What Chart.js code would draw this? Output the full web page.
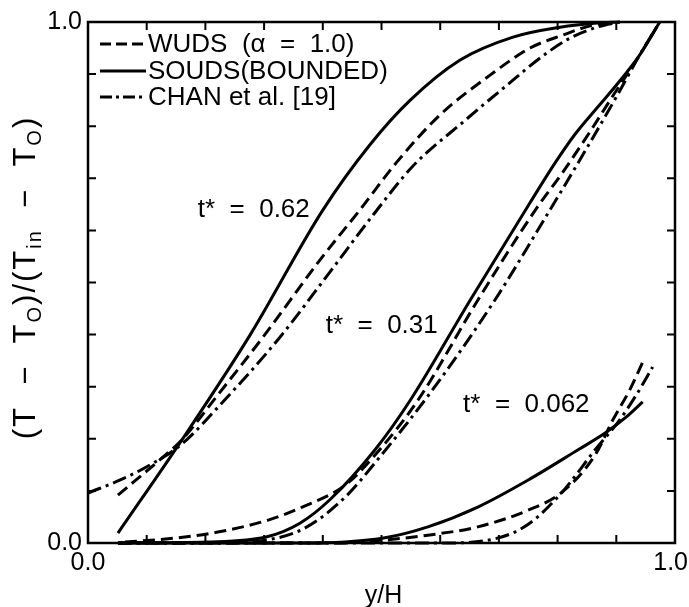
<!DOCTYPE html>
<html>
<head>
<meta charset="utf-8">
<script src="https://cdn.jsdelivr.net/npm/chart.js@4/dist/chart.umd.min.js"></script>
<style>
html, body { margin: 0; padding: 0; background: #fff; }
</style>
</head>
<body>
<canvas id="canvasPerfiles" width="689" height="607"></canvas>
<script>
var fuente = '"Liberation Sans", Arial, Helvetica, sans-serif';

// t* = 0.62  [y/H, (T-To)/(Tin-To)]
var soudsT62 = [[0.051,0.019],[0.160,0.198],[0.276,0.399],[0.400,0.639],[0.480,0.764],[0.549,0.850],[0.634,0.927],[0.724,0.971],[0.804,0.990],[0.867,0.998],[0.906,1.0]];
var wudsT62 = [[0.051,0.092],[0.136,0.173],[0.160,0.198],[0.221,0.284],[0.298,0.395],[0.395,0.543],[0.463,0.639],[0.526,0.731],[0.600,0.822],[0.685,0.898],[0.753,0.950],[0.809,0.975],[0.860,0.994],[0.898,1.0]];
var chanT62 = [[0.0,0.096],[0.055,0.121],[0.106,0.150],[0.160,0.190],[0.225,0.265],[0.327,0.395],[0.412,0.520],[0.486,0.630],[0.554,0.724],[0.639,0.808],[0.714,0.879],[0.775,0.935],[0.821,0.969],[0.867,0.990],[0.906,1.0]];

// t* = 0.31
var soudsT31 = [[0.051,0.0],[0.203,0.002],[0.305,0.012],[0.361,0.038],[0.412,0.083],[0.489,0.179],[0.549,0.274],[0.651,0.466],[0.753,0.653],[0.796,0.730],[0.830,0.785],[0.867,0.835],[0.901,0.880],[0.940,0.937],[0.974,1.0]];
var wudsT31 = [[0.063,0.002],[0.136,0.008],[0.221,0.021],[0.307,0.044],[0.365,0.069],[0.438,0.111],[0.489,0.169],[0.562,0.274],[0.664,0.466],[0.762,0.639],[0.809,0.712],[0.855,0.789],[0.894,0.858],[0.940,0.937],[0.974,1.0]];
var chanT31 = [[0.051,0.0],[0.203,0.0],[0.305,0.006],[0.370,0.029],[0.438,0.088],[0.497,0.165],[0.583,0.288],[0.693,0.466],[0.782,0.630],[0.843,0.745],[0.901,0.858],[0.940,0.937],[0.974,1.0]];

// t* = 0.062
var soudsT062 = [[0.051,0.0],[0.361,0.0],[0.438,0.002],[0.506,0.010],[0.579,0.031],[0.664,0.069],[0.750,0.121],[0.835,0.179],[0.881,0.211],[0.915,0.240],[0.945,0.271]];
var wudsT062 = [[0.051,0.0],[0.412,0.0],[0.506,0.006],[0.579,0.015],[0.664,0.031],[0.750,0.063],[0.808,0.098],[0.864,0.169],[0.894,0.236],[0.923,0.294],[0.945,0.347]];
var chanT062 = [[0.051,0.0],[0.600,0.0],[0.693,0.008],[0.750,0.036],[0.808,0.098],[0.864,0.179],[0.903,0.232],[0.934,0.284],[0.962,0.338]];

var tickValues = [0, 1];
var tickLabels = ['0.0', '1.0'];
var seriesNames = ['WUDS  (\u03B1  =  1.0)', 'SOUDS(BOUNDED)', 'CHAN et al. [19]'];
var curveLabels = ['t*  =  0.62', 't*  =  0.31', 't*  =  0.062'];
var curveLabelPos = [[0.187, 0.639], [0.405, 0.417], [0.639, 0.265]];

var dashes = { wuds: [12, 6], souds: [], chan: [14, 5, 3, 5] };

function serie(datos, tipo){
	return {
		data: datos,
		borderColor: '#000',
		borderWidth: 3,
		borderDash: dashes[tipo],
		pointRadius: 0,
		fill: false,
		cubicInterpolationMode: 'monotone',
		clip: 3
	};
}

function etiquetaTick(v){
	for (var i = 0; i < tickValues.length; i++) {
		if (Math.abs(v - tickValues[i]) < 1e-6) return tickLabels[i];
	}
	return '';
}

// texto con subindices (titulo del eje y)
function textoRico(ctx, partes, size){
	var total = 0;
	partes.forEach(function(p){
		ctx.font = (p.sub ? Math.round(size * 0.66) : size) + 'px ' + fuente;
		p.w = ctx.measureText(p.t).width;
		total += p.w;
	});
	var cx = -total / 2;
	partes.forEach(function(p){
		ctx.font = (p.sub ? Math.round(size * 0.66) : size) + 'px ' + fuente;
		ctx.fillText(p.t, cx, p.sub ? size * 0.3 : 0);
		cx += p.w;
	});
}

var marcoPlugin = {
	id: 'marco',
	afterDraw: function(chart){
		var ctx = chart.ctx, a = chart.chartArea;
		var sx = chart.scales.x, sy = chart.scales.y;
		ctx.save();
		ctx.strokeStyle = '#000';
		ctx.fillStyle = '#000';
		ctx.setLineDash([]);
		ctx.lineWidth = 2.5;
		ctx.strokeRect(a.left, a.top, a.right - a.left, a.bottom - a.top);

		// ticks hacia adentro
		ctx.lineWidth = 2;
		ctx.beginPath();
		sx.ticks.forEach(function(t){
			var px = sx.getPixelForValue(t.value);
			ctx.moveTo(px, a.bottom); ctx.lineTo(px, a.bottom - 8);
			ctx.moveTo(px, a.top); ctx.lineTo(px, a.top + 8);
		});
		sy.ticks.forEach(function(t){
			var py = sy.getPixelForValue(t.value);
			ctx.moveTo(a.left, py); ctx.lineTo(a.left + 8, py);
			ctx.moveTo(a.right, py); ctx.lineTo(a.right - 8, py);
		});
		ctx.stroke();

		// etiquetas del eje x (la ultima se pega al borde)
		ctx.font = '25px ' + fuente;
		ctx.textBaseline = 'top';
		tickValues.forEach(function(v, i){
			var px = sx.getPixelForValue(v);
			var w = ctx.measureText(tickLabels[i]).width;
			ctx.textAlign = 'center';
			if (px + w / 2 > chart.width - 1) {
				ctx.textAlign = 'right';
				px = chart.width - 1;
			}
			ctx.fillText(tickLabels[i], px, a.bottom + 8);
		});

		// leyenda
		var tipos = ['wuds', 'souds', 'chan'];
		var filas = [44, 71, 97];
		ctx.font = '26px ' + fuente;
		ctx.textBaseline = 'middle';
		ctx.textAlign = 'left';
		for (var i = 0; i < 3; i++) {
			ctx.lineWidth = 3;
			ctx.setLineDash(tipos[i] === 'wuds' ? [11, 5] : (tipos[i] === 'chan' ? [12, 4, 3, 4] : []));
			ctx.beginPath();
			ctx.moveTo(a.left + 12, filas[i]);
			ctx.lineTo(a.left + 58, filas[i]);
			ctx.stroke();
			ctx.setLineDash([]);
			ctx.fillText(seriesNames[i], a.left + 60, filas[i] + 1);
		}

		// etiquetas de las curvas
		ctx.font = '26px ' + fuente;
		curveLabels.forEach(function(txt, i){
			ctx.fillText(txt, sx.getPixelForValue(curveLabelPos[i][0]), sy.getPixelForValue(curveLabelPos[i][1]));
		});

		// titulo eje x
		ctx.font = '25px ' + fuente;
		ctx.textAlign = 'center';
		ctx.textBaseline = 'alphabetic';
		ctx.fillText('y/H', (a.left + a.right) / 2 + 2, 603);

		// titulo eje y
		ctx.translate(26, (a.top + a.bottom) / 2 - 5);
		ctx.rotate(-Math.PI / 2);
		ctx.textAlign = 'left';
		ctx.textBaseline = 'middle';
		ctx.letterSpacing = '2px';
		textoRico(ctx, [
			{t: '(T  \u2212  T'}, {t: 'O', sub: true}, {t: ')/(T'}, {t: 'in', sub: true},
			{t: '  \u2212  T'}, {t: 'O', sub: true}, {t: ')'}
		], 31);
		ctx.restore();
	}
};

function graficoPerfiles(){
	var ctx = document.getElementById('canvasPerfiles').getContext('2d');
	window.myChart = new Chart(ctx, {
		type: 'line',
		data: {
			datasets: [
				serie(wudsT62, 'wuds'), serie(soudsT62, 'souds'), serie(chanT62, 'chan'),
				serie(wudsT31, 'wuds'), serie(soudsT31, 'souds'), serie(chanT31, 'chan'),
				serie(wudsT062, 'wuds'), serie(soudsT062, 'souds'), serie(chanT062, 'chan')
			]
		},
		options: {
			responsive: false,
			animation: false,
			layout: { padding: { left: 0, right: 14, top: 22, bottom: 0 } },
			plugins: { legend: { display: false }, tooltip: { enabled: false } },
			scales: {
				x: {
					type: 'linear', min: 0, max: 1,
					grid: { display: false, drawTicks: false },
					border: { display: false },
					ticks: { stepSize: 0.1, autoSkip: false, display: false },
					afterFit: function(s){ s.height = 64; s.paddingLeft = 0; s.paddingRight = 0; }
				},
				y: {
					type: 'linear', min: 0, max: 1,
					grid: { display: false, drawTicks: false },
					border: { display: false },
					ticks: {
						stepSize: 0.1, autoSkip: false, padding: 6,
						color: '#000', font: { size: 25, family: fuente },
						callback: etiquetaTick
					},
					afterFit: function(s){ s.width = 88; s.paddingTop = 0; s.paddingBottom = 0; }
				}
			}
		},
		plugins: [marcoPlugin]
	});
}

window.onload = function(){
	graficoPerfiles();
};
</script>
</body>
</html>
